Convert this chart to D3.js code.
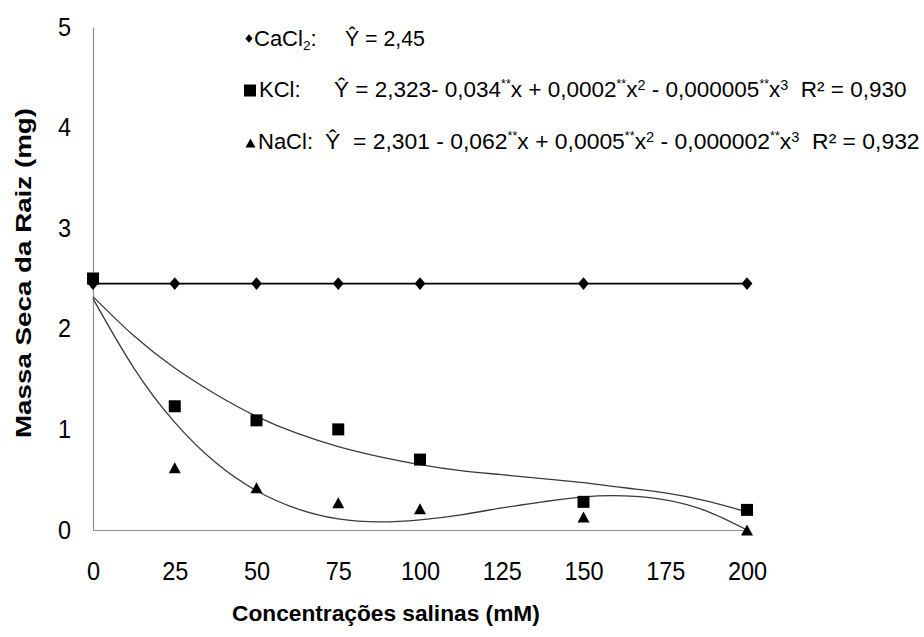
<!DOCTYPE html>
<html>
<head>
<meta charset="utf-8">
<script src="https://cdn.jsdelivr.net/npm/d3@7"></script>
<style>
  body { margin: 0; background: #fff; }
  svg { display: block; }
  text { font-family: "Liberation Sans", Arial, sans-serif; fill: #000; white-space: pre; }
</style>
</head>
<body>
<svg id="chart" width="924" height="637"></svg>
<script>
// Salt concentrations (mM) and measured root dry mass (mg)
const concentrations = [0, 25, 50, 75, 100, 150, 200];
const cacl2 = [2.45, 2.45, 2.45, 2.45, 2.45, 2.45, 2.45];
const kcl   = [2.50, 1.23, 1.09, 1.00, 0.70, 0.28, 0.20];
const nacl  = [2.50, 0.62, 0.42, 0.27, 0.21, 0.13, 0.00];

// Cubic regression curves, sampled along the concentration range
const fitConcentrations = [0, 12.5, 25, 37.5, 50, 62.5, 75, 87.5, 100, 112.5, 125, 137.5, 150, 162.5, 175, 187.5, 200];
const kclFit  = [2.32, 1.93, 1.61, 1.35, 1.13, 0.96, 0.83, 0.73, 0.65, 0.59, 0.55, 0.51, 0.47, 0.42, 0.37, 0.29, 0.18];
const naclFit = [2.30, 1.61, 1.07, 0.67, 0.39, 0.21, 0.11, 0.08, 0.10, 0.15, 0.22, 0.28, 0.33, 0.34, 0.30, 0.19, 0.00];

const xTicks = [0, 25, 50, 75, 100, 125, 150, 175, 200];
const yTicks = [0, 1, 2, 3, 4, 5];

const xTitle = "Concentrações salinas (mM)";
const yTitle = "Massa Seca da Raiz (mg)";

// Legend lines: [text, kind] segments, kind = "" | "sup" | "star" | "sub"
const legendNames = [
  [["CaCl", ""], ["2", "sub"], [":", ""]],
  [["KCl:", ""]],
  [["NaCl:", ""]]
];
const legendEquations = [
  [["Ŷ = 2,45", ""]],
  [["Ŷ = 2,323- 0,034", ""], ["**", "star"], ["x + 0,0002", ""], ["**", "star"], ["x", ""], ["2", "sup"],
   [" - 0,000005", ""], ["**", "star"], ["x", ""], ["3", "sup"], ["  R² = 0,930", ""]],
  [["Ŷ  = 2,301 - 0,062", ""], ["**", "star"], ["x + 0,0005", ""], ["**", "star"], ["x", ""], ["2", "sup"],
   [" - 0,000002", ""], ["**", "star"], ["x", ""], ["3", "sup"], ["  R² = 0,932", ""]]
];

const svg = d3.select("#chart");

const x = d3.scaleLinear().domain([0, 200]).range([93, 747]);
const y = d3.scaleLinear().domain([0, 5]).range([530, 27]);

const axisColor = "#8c8c8c";
const tickSize = 25, tickSX = 0.94;

// Axes
const gx = svg.append("g")
  .attr("transform", `translate(0,${y(0)})`)
  .call(d3.axisBottom(x).tickValues(xTicks).tickFormat(d3.format("d")).tickSize(0).tickPadding(32));
const yPad = 22;
const gy = svg.append("g")
  .attr("transform", `translate(${x(0)},0)`)
  .call(d3.axisLeft(y).tickValues(yTicks).tickFormat(d3.format("d")).tickSize(0).tickPadding(yPad));

[gx, gy].forEach(g => {
  g.select(".domain").attr("stroke", axisColor).attr("stroke-width", 1.2);
  g.selectAll(".tick text")
    .attr("font-size", tickSize)
    .attr("font-family", "Liberation Sans, Arial, sans-serif")
    .attr("fill", "#000");
});
gx.selectAll(".tick text").attr("transform", `scale(${tickSX},1)`);
gy.selectAll(".tick text").attr("x", -yPad / tickSX).attr("transform", `scale(${tickSX},1)`);

// Fit a text element horizontally to a target width, anchored at x0
function fitWidth(sel, x0, width) {
  const w = sel.node().getBBox().width;
  const s = width / w;
  sel.attr("transform", `translate(${x0},0) scale(${s},1) translate(${-x0},0)`);
}

// Axis titles
const xt = svg.append("text")
  .attr("x", 232).attr("y", 621)
  .attr("font-size", 23).attr("font-weight", "bold")
  .text(xTitle);
fitWidth(xt, 232, 308);

svg.append("text")
  .attr("transform", "translate(31,273) rotate(-90)")
  .attr("text-anchor", "middle")
  .attr("font-size", 22).attr("font-weight", "bold")
  .attr("textLength", 330).attr("lengthAdjust", "spacingAndGlyphs")
  .text(yTitle);

// Trend curves
const curveLine = d3.line()
  .x((d, i) => x(fitConcentrations[i]))
  .y(d => y(d))
  .curve(d3.curveNatural);

svg.append("path").attr("d", curveLine(kclFit))
  .attr("fill", "none").attr("stroke", "#3a3a3a").attr("stroke-width", 1.3);
svg.append("path").attr("d", curveLine(naclFit))
  .attr("fill", "none").attr("stroke", "#3a3a3a").attr("stroke-width", 1.3);

// CaCl2 constant line
const dataLine = d3.line()
  .x((d, i) => x(concentrations[i]))
  .y(d => y(d));
svg.append("path").attr("d", dataLine(cacl2))
  .attr("fill", "none").attr("stroke", "#000").attr("stroke-width", 1.8);

// Marker shapes
const diamondType = (w, h) => ({
  draw(ctx) { ctx.moveTo(0, -h); ctx.lineTo(w, 0); ctx.lineTo(0, h); ctx.lineTo(-w, 0); ctx.closePath(); }
});
const triangleType = (w, h) => ({
  draw(ctx) { ctx.moveTo(0, -h / 2); ctx.lineTo(w / 2, h / 2); ctx.lineTo(-w / 2, h / 2); ctx.closePath(); }
});
const squareType = (s) => ({
  draw(ctx) { ctx.rect(-s / 2, -s / 2, s, s); }
});

const diamondPath = d3.symbol().type(diamondType(5.4, 6.4))();
const squarePath = d3.symbol().type(squareType(12))();
const trianglePath = d3.symbol().type(triangleType(12, 11))();

function drawMarkers(values, path) {
  svg.append("g").selectAll("path")
    .data(values)
    .join("path")
    .attr("d", path)
    .attr("fill", "#000")
    .attr("transform", (d, i) => `translate(${x(concentrations[i])},${y(d)})`);
}
drawMarkers(nacl, trianglePath);
drawMarkers(cacl2, diamondPath);
drawMarkers(kcl, squarePath);

// Legend
const segStyle = {
  "":   { scale: 1,    rise: 0 },
  sup:  { scale: 0.64, rise: -0.34 },
  star: { scale: 0.55, rise: -0.42 },
  sub:  { scale: 0.62, rise: 0.2 }
};
function richText(parent, x0, y0, segs, size) {
  const t = parent.append("text").attr("x", x0).attr("y", y0).attr("font-size", size);
  let shift = 0;
  segs.forEach(([s, k]) => {
    const st = segStyle[k];
    const target = st.rise * size;
    t.append("tspan").attr("dy", target - shift).attr("font-size", st.scale * size).text(s);
    shift = target;
  });
  return t;
}

const legendSize = 22;
const legendBaselines = [46, 97, 149];
const legendNameX = [254, 259, 258];
const legendEqX = [345, 334, 325];
const legendEqEnd = [425, 907, 920];
const lg = svg.append("g");

const legendMarkers = [
  d3.symbol().type(diamondType(3.6, 4.2))(),
  d3.symbol().type(squareType(12))(),
  d3.symbol().type(triangleType(10, 9))()
];
const legendMarkerPos = [[249, 38.5], [250, 90.5], [250.5, 143]];

legendNames.forEach((segs, i) => {
  lg.append("path").attr("d", legendMarkers[i]).attr("fill", "#000")
    .attr("transform", `translate(${legendMarkerPos[i][0]},${legendMarkerPos[i][1]})`);
  richText(lg, legendNameX[i], legendBaselines[i], segs, legendSize);
  const eq = richText(lg, legendEqX[i], legendBaselines[i], legendEquations[i], legendSize);
  fitWidth(eq, legendEqX[i], legendEqEnd[i] - legendEqX[i]);
});
</script>
</body>
</html>
